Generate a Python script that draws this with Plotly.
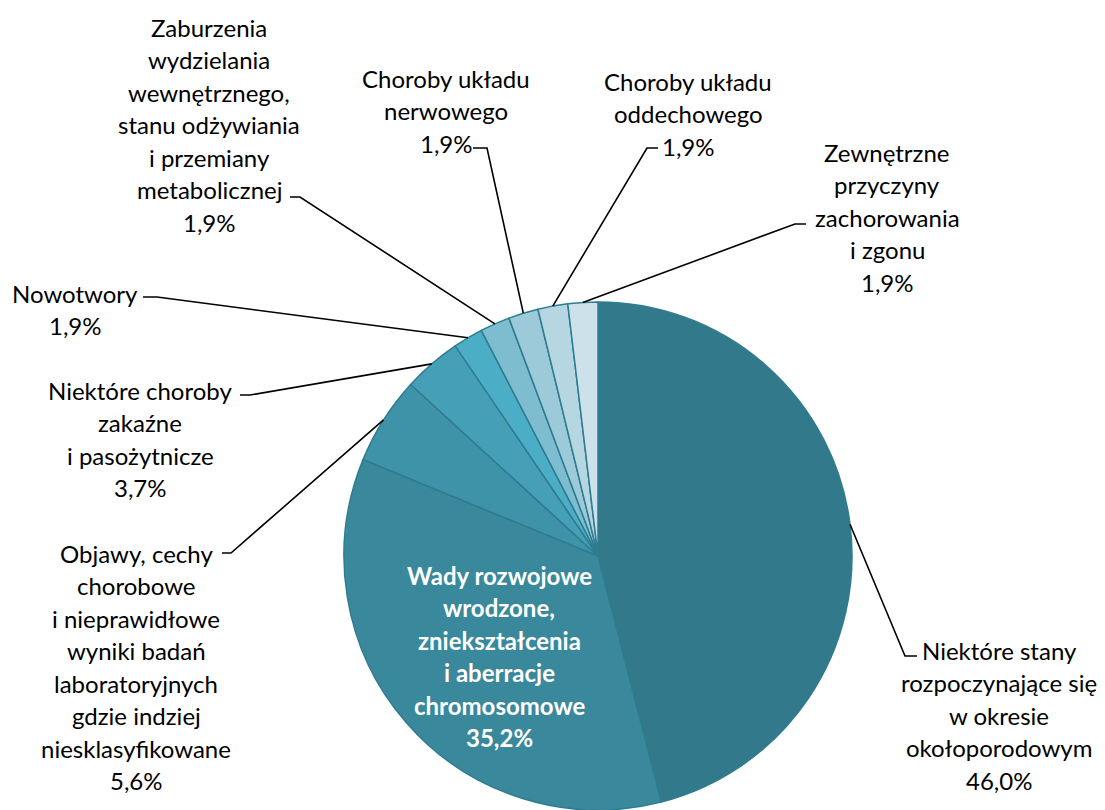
import math
import plotly.graph_objects as go

# data, clockwise from 12 o'clock
categories = [
    "Niektóre stany rozpoczynające się w okresie okołoporodowym",
    "Wady rozwojowe wrodzone, zniekształcenia i aberracje chromosomowe",
    "Objawy, cechy chorobowe i nieprawidłowe wyniki badań laboratoryjnych gdzie indziej niesklasyfikowane",
    "Niektóre choroby zakaźne i pasożytnicze",
    "Nowotwory",
    "Zaburzenia wydzielania wewnętrznego, stanu odżywiania i przemiany metabolicznej",
    "Choroby układu nerwowego",
    "Choroby układu oddechowego",
    "Zewnętrzne przyczyny zachorowania i zgonu",
]
shares = [46.0, 35.2, 5.6, 3.7, 1.9, 1.9, 1.9, 1.9, 1.9]
label_lines = [
    ["Niektóre stany", "rozpoczynające się", "w okresie", "okołoporodowym"],
    ["Wady rozwojowe", "wrodzone,", "zniekształcenia", "i aberracje", "chromosomowe"],
    ["Objawy, cechy", "chorobowe", "i nieprawidłowe", "wyniki badań", "laboratoryjnych",
     "gdzie indziej", "niesklasyfikowane"],
    ["Niektóre choroby", "zakaźne", "i pasożytnicze"],
    ["Nowotwory"],
    ["Zaburzenia", "wydzielania", "wewnętrznego,", "stanu odżywiania", "i przemiany", "metabolicznej"],
    ["Choroby układu", "nerwowego"],
    ["Choroby układu", "oddechowego"],
    ["Zewnętrzne", "przyczyny", "zachorowania", "i zgonu"],
]
colors = ["#327A8B", "#3A889B", "#3F93A8", "#45A0B7", "#4BAEC6",
          "#7EBDD0", "#9DCAD9", "#B6D6E2", "#CCE1EA"]

W, H = 1105, 810
CX, CY, R = 598, 556, 254
LINE_H = 32.5
FONT = "Lato, Calibri, Carlito, sans-serif"

# label layout: centre x, first-line y, bend point, end of horizontal tick
label_pos = [
    dict(x=999, y=650, bend=(905, 656), tick=(917, 656)),
    dict(x=499, y=575, inside=True),
    dict(x=136, y=553, bend=(231, 553), tick=(222, 553)),
    dict(x=140, y=390, bend=(250, 395), tick=(240, 395)),
    dict(x=75, y=293, bend=(157, 297), tick=(143, 297)),
    dict(x=209, y=27, bend=(300, 197), tick=(290, 197)),
    dict(x=446, y=78, bend=(487, 148), tick=(473, 148)),
    dict(x=688, y=81, bend=(647, 148), tick=(658, 148)),
    dict(x=887, y=152, bend=(795, 224), tick=(806, 224)),
]

fig = go.Figure()
fig.add_trace(go.Pie(
    labels=categories,
    values=shares,
    sort=False,
    direction="clockwise",
    rotation=0,
    marker=dict(colors=colors, line=dict(color="#2F7C90", width=1.5)),
    textinfo="none",
    hoverinfo="label+percent",
    showlegend=False,
    domain=dict(x=[(CX - R) / W, (CX + R) / W], y=[(H - CY - R) / H, (H - CY + R) / H]),
))

annotations = []
shapes = []
cum = 0.0
total = sum(shares)
for name_lines, v, pos in zip(label_lines, shares, label_pos):
    mid = 2 * math.pi * (cum + v / 2) / total
    cum += v
    text_lines = name_lines + [f"{v:.1f}%".replace(".", ",")]
    inside = pos.get("inside", False)
    for k, t in enumerate(text_lines):
        annotations.append(dict(
            x=pos["x"], y=pos["y"] + k * LINE_H, xref="x", yref="y",
            text=f"<b>{t}</b>" if inside else t,
            showarrow=False, xanchor="center", yanchor="middle",
            font=dict(family=FONT, size=24, color="white" if inside else "black"),
        ))
    if inside:
        continue
    # leader line from slice edge to label
    ex = CX + R * math.sin(mid)
    ey = CY - R * math.cos(mid)
    bx, by = pos["bend"]
    tx, ty = pos["tick"]
    shapes.append(dict(
        type="path", xref="x", yref="y",
        path=f"M {ex:.1f},{ey:.1f} L {bx},{by} L {tx},{ty}",
        line=dict(color="black", width=1.6),
    ))

fig.update_layout(
    width=W, height=H,
    margin=dict(l=0, r=0, t=0, b=0),
    paper_bgcolor="white",
    plot_bgcolor="rgba(0,0,0,0)",
    xaxis=dict(range=[0, W], visible=False, fixedrange=True),
    yaxis=dict(range=[H, 0], visible=False, fixedrange=True),
    annotations=annotations,
    shapes=shapes,
)

# drop the default page margin so the figure sits at the window origin
fig.write_html("out.html", config={"displayModeBar": False},
               post_script="document.body.style.margin='0';")
